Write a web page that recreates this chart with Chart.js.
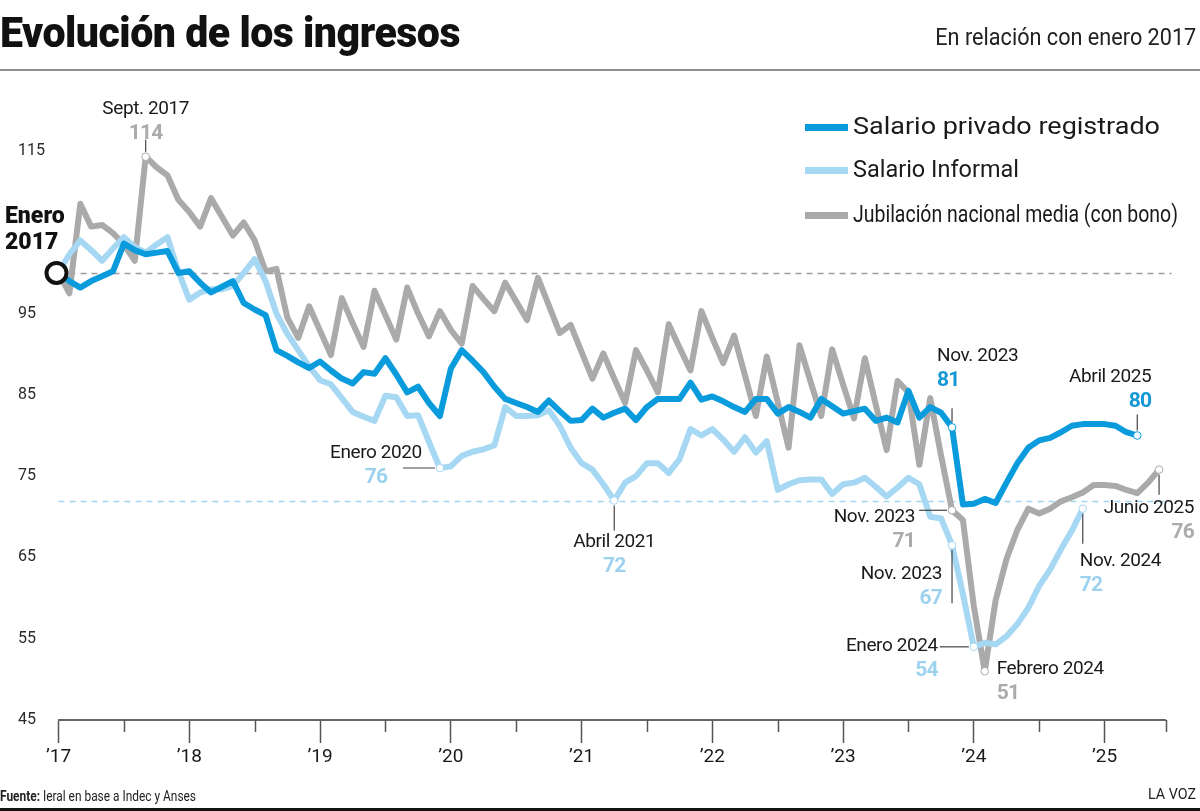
<!DOCTYPE html>
<html lang="es"><head><meta charset="utf-8">
<script src="https://cdn.jsdelivr.net/npm/chart.js@4.4.1/dist/chart.umd.min.js"></script>
<style>
html,body{margin:0;padding:0;background:#fff;}
body{width:1200px;height:811px;position:relative;overflow:hidden;font-family:Roboto,'Noto Sans',sans-serif;color:#161616;}
#cv{position:absolute;left:0;top:0;}
.t{position:absolute;white-space:nowrap;}
#title{left:0;top:11.6px;font-size:42px;line-height:42px;font-weight:900;color:#111;transform-origin:0 50%;letter-spacing:-0.5px;}
#subtitle{top:26px;font-size:23px;line-height:23px;color:#222;transform-origin:100% 50%;}
.rule{position:absolute;left:0;width:1200px;}
.leg{position:absolute;height:24px;}
.leg .sw{position:absolute;left:805px;width:43px;height:7px;top:8.5px;}
.leg .lt{position:absolute;left:853px;top:0;font-size:23px;line-height:24px;color:#1a1a1a;white-space:nowrap;transform-origin:0 50%;}
.ann{position:absolute;white-space:nowrap;}
.ann .l1{font-size:19px;line-height:24px;color:#1a1a1a;letter-spacing:-0.4px;}
.ann .l2{font-size:21px;line-height:24px;font-weight:700;letter-spacing:-0.8px;}
#enero17{left:5px;top:203px;font-size:23px;line-height:26px;font-weight:900;color:#111;}
#fuente{left:0;top:787px;font-size:15px;line-height:18px;color:#222;transform-origin:0 50%;}
#lavoz{top:785px;font-size:14px;line-height:18px;color:#222;transform-origin:100% 50%;}
</style></head>
<body>
<canvas id="cv" width="1200" height="811"></canvas>
<div class="t" id="title">Evolución de los ingresos</div>
<div class="t" id="subtitle">En relación con enero 2017</div>
<div class="rule" style="top:69px;height:2px;background:#8e8e8e;"></div>
<div id="legend"></div>
<div class="t" id="enero17">Enero<br>2017</div>
<div id="anns"></div>
<div class="t" id="fuente"><b>Fuente:</b> Ieral en base a Indec y Anses</div>
<div class="t" id="lavoz">LA VOZ</div>
<div class="rule" style="top:808px;height:3px;background:#111;"></div>
<script>
// ---- Data (monthly, index 0 = enero 2017) ----
const seriesNames = ['Salario privado registrado', 'Salario Informal', 'Jubilación nacional media (con bono)'];
const seriesColors = ['#0a9bdd', '#a6d8f3', '#aaaaaa'];
const valueColors = ['#1598d6', '#9dd2ef', '#ababab'];

const salarioRegistrado = [
  100, 99, 98.2, 99, 99.6, 100.2, 103.6, 102.8, 102.3, 102.5,
  102.7, 100, 100.2, 98.8, 97.6, 98.3, 99, 96.3, 95.5, 94.8,
  90.5, 89.8, 89, 88.3, 89.1, 88, 87, 86.4, 87.8, 87.6,
  89.5, 87.5, 85.3, 86, 84, 82.4, 88.2, 90.5, 89.2, 87.8,
  86, 84.5, 84, 83.5, 82.9, 84.3, 83, 81.8, 81.9, 83.3,
  82.2, 82.8, 83.3, 81.9, 83.5, 84.5, 84.5, 84.5, 86.5, 84.4,
  84.8, 84.2, 83.5, 82.9, 84.5, 84.5, 82.7, 83.5, 82.9, 82.2,
  84.5, 83.6, 82.7, 83.0, 83.3, 81.8, 82.2, 81.6, 85.5, 82.2,
  83.5, 82.8, 81, 71.5, 71.6, 72.2, 71.7, 74.2, 76.6, 78.5,
  79.4, 79.7, 80.4, 81.2, 81.4, 81.4, 81.4, 81.2, 80.4, 80
];
const salarioInformal = [
  100, 102.3, 104, 102.8, 101.5, 103, 104.4, 103.2, 102.5, 103.5,
  104.4, 100.2, 96.7, 97.6, 98, 98, 98.4, 100, 101.7, 99,
  95, 92.5, 90.5, 88.5, 86.8, 86.3, 84.6, 82.9, 82.3, 81.8,
  84.9, 84.7, 82.4, 82.5, 79.2, 76, 76.2, 77.5, 78, 78.3,
  78.8, 83.5, 82.4, 82.4, 82.5, 83.1, 81.2, 78.5, 76.6, 75.8,
  74, 72, 74.2, 75, 76.6, 76.6, 75.4, 77.1, 80.8, 80,
  80.8, 79.5, 78, 79.8, 77.9, 79.3, 73.3, 74, 74.5, 74.6,
  74.6, 72.8, 74, 74.2, 74.8, 73.7, 72.5, 73.6, 74.8, 74,
  70, 69.8, 66.5, 60.5, 54, 54.5, 54.3, 55.3, 56.8, 58.8,
  61.5, 63.5, 66, 68.3, 71
];
const jubilacion = [
  100, 97.5, 108.5, 105.7, 105.9, 104.9, 103.5, 101.5, 114.3, 113,
  112, 109, 107.5, 105.7, 109.2, 106.9, 104.6, 106.2, 104, 100.2,
  100.5, 94.5, 92, 95.9, 92.9, 89.9, 96.9, 93.8, 90.9, 97.8,
  94.8, 91.8, 98.2, 95, 92.2, 95.3, 93, 91.3, 98.4, 96.8,
  95.3, 98.8, 96.5, 94.2, 99.4, 96, 92.6, 93.6, 90.3, 87,
  90.1, 87, 84, 90.5, 88, 85.3, 93.7, 90.8, 88, 95.3,
  92, 88.9, 92.3, 87.4, 82.4, 89.7, 84.1, 78.5, 91.1, 86.7,
  82.4, 90.6, 86.3, 82.1, 89.5, 83.8, 78.2, 86.7, 85.3, 76.4,
  84.6, 77.5, 70.8, 69.6, 59, 51, 59.7, 64.8, 68.4, 71,
  70.4, 71.0, 71.9, 72.4, 73, 73.9, 73.9, 73.8, 73.3, 72.9,
  74.2, 75.8
];
const seriesValues = [salarioRegistrado, salarioInformal, jubilacion];

// ---- Axis ticks ----
const xTickMonths = [0, 12, 24, 36, 48, 60, 72, 84, 96];
const xTickLabels = ['\u201917', '\u201918', '\u201919', '\u201920', '\u201921', '\u201922', '\u201923', '\u201924', '\u201925'];
const xMinorMonths = [6, 18, 30, 42, 54, 66, 78, 90];
const xAxisEnd = 101.6;
const yTicks = [45, 55, 65, 75, 85, 95, 115];
const yMin = 45, yMax = 115;
const refLines = [{v: 100, color: '#9c9c9c'}, {v: 72, color: '#a3d5ef'}];

// ---- Highlighted points: [series, month index, label, value] ----
const annotations = [
  {s: 2, i: 8,   label: 'Sept. 2017',   value: '114', align: 'center', dx: 0,   dy: -61, leader: [0, -5, 0, -17]},
  {s: 1, i: 35,  label: 'Enero 2020',   value: '76',  align: 'right', inner: 'center', dx: -18, dy: -28, leader: [-37, 0, -5, 0]},
  {s: 1, i: 51,  label: 'Abril 2021',   value: '72',  align: 'center', dx: 0,   dy: 28,  leader: [0, 5, 0, 30]},
  {s: 0, i: 82,  label: 'Nov. 2023',    value: '81',  align: 'left',   dx: -15, dy: -84, leader: [0, -5, 0, -19]},
  {s: 0, i: 99,  label: 'Abril 2025',   value: '80',  align: 'right',  dx: 14,  dy: -72, leader: [0, -5, 0, -21]},
  {s: 2, i: 82,  label: 'Nov. 2023',    value: '71',  align: 'right',  dx: -37, dy: -6,  leader: [-33, 0, -5, 0]},
  {s: 1, i: 82,  label: 'Nov. 2023',    value: '67',  align: 'right',  dx: -10, dy: 16,  leader: [0, 5, 0, 58]},
  {s: 1, i: 84,  label: 'Enero 2024',   value: '54',  align: 'right',  dx: -36, dy: -14, leader: [-34, 0, -5, 0]},
  {s: 2, i: 85,  label: 'Febrero 2024', value: '51',  align: 'left',   dx: 12,  dy: -15, leader: null},
  {s: 2, i: 101, label: 'Junio 2025',   value: '76',  align: 'right',  dx: 35,  dy: 25,  leader: [0, 5, 0, 25]},
  {s: 1, i: 94,  label: 'Nov. 2024',    value: '72',  align: 'left',   dx: -3,  dy: 39,  leader: [0, 5, 0, 35]}
];

// ---- legend (HTML) ----
const legendY = [127, 170, 215];
const legendW = [307, 166, 325];
const legEl = document.getElementById('legend');
seriesNames.forEach((n, k) => {
  const d = document.createElement('div');
  d.className = 'leg';
  d.style.top = (legendY[k] - 12) + 'px';
  d.innerHTML = '<div class="sw" style="background:' + seriesColors[k] + '"></div><div class="lt">' + n + '</div>';
  legEl.appendChild(d);
});

function fitW(el, w) {
  const r = el.getBoundingClientRect().width;
  if (r > 0) el.style.transform = 'scaleX(' + (w / r) + ')';
}

const FONT = "Roboto, 'Noto Sans', sans-serif";

const overlay = {
  id: 'overlay',
  beforeDatasetsDraw(chart) {
    const {ctx, chartArea, scales} = chart;
    ctx.save();
    ctx.lineWidth = 1.3;
    ctx.setLineDash([6, 5]);
    refLines.forEach(r => {
      const y = Math.round(scales.y.getPixelForValue(r.v)) + 0.5;
      ctx.strokeStyle = r.color;
      ctx.beginPath();
      ctx.moveTo(chartArea.left, y);
      ctx.lineTo(chartArea.right + 6, y);
      ctx.stroke();
    });
    ctx.restore();
  },
  afterDatasetsDraw(chart) {
    const {ctx, chartArea, scales} = chart;
    ctx.save();
    // minor ticks on x axis
    ctx.strokeStyle = '#555';
    ctx.lineWidth = 1.5;
    xMinorMonths.concat([xAxisEnd]).forEach(m => {
      const x = Math.round(scales.x.getPixelForValue(m)) + 0.5;
      ctx.beginPath();
      ctx.moveTo(x, chartArea.bottom);
      ctx.lineTo(x, chartArea.bottom + 12);
      ctx.stroke();
    });
    // leaders + markers
    annotations.forEach(a => {
      const meta = chart.getDatasetMeta(a.s).data[a.i];
      const px = meta.x, py = meta.y;
      if (a.leader) {
        ctx.strokeStyle = '#444';
        ctx.lineWidth = 1.2;
        ctx.beginPath();
        ctx.moveTo(px + a.leader[0], py + a.leader[1]);
        ctx.lineTo(px + a.leader[2], py + a.leader[3]);
        ctx.stroke();
      }
      ctx.fillStyle = '#fff';
      ctx.strokeStyle = seriesColors[a.s];
      ctx.lineWidth = 1;
      ctx.beginPath();
      ctx.arc(px, py, 3.8, 0, Math.PI * 2);
      ctx.fill();
      ctx.stroke();
    });
    // Enero 2017 origin circle
    const p0 = chart.getDatasetMeta(0).data[0];
    ctx.beginPath();
    ctx.arc(p0.x - 2, p0.y, 10, 0, Math.PI * 2);
    ctx.fillStyle = '#fff';
    ctx.fill();
    ctx.lineWidth = 4;
    ctx.strokeStyle = '#111';
    ctx.stroke();
    ctx.restore();
  },
  afterRender(chart) {
    if (chart._annDone) return;
    chart._annDone = true;
    const host = document.getElementById('anns');
    annotations.forEach(a => {
      const meta = chart.getDatasetMeta(a.s).data[a.i];
      const px = meta.x, py = meta.y;
      const d = document.createElement('div');
      d.className = 'ann';
      d.style.textAlign = a.inner || a.align;
      d.innerHTML = '<div class="l1">' + a.label + '</div><div class="l2" style="color:' + valueColors[a.s] + '">' + a.value + '</div>';
      host.appendChild(d);
      const w = d.getBoundingClientRect().width;
      let left = px + a.dx;
      if (a.align === 'center') left -= w / 2;
      else if (a.align === 'right') left -= w;
      d.style.left = left + 'px';
      d.style.top = (py + a.dy) + 'px';
    });
  }
};

new Chart(document.getElementById('cv'), {
  type: 'line',
  data: {
    datasets: seriesValues.map((vals, k) => ({
      label: seriesNames[k],
      data: vals.map((v, i) => ({x: i, y: v})),
      borderColor: seriesColors[k],
      borderWidth: 6,
      pointRadius: 0,
      tension: 0,
      borderJoinStyle: 'round',
      borderCapStyle: 'round',
      fill: false,
      order: k + 1
    }))
  },
  options: {
    responsive: false,
    animation: false,
    events: [],
    layout: {padding: {left: 18, right: 34.4, top: 151, bottom: 31}},
    plugins: {legend: {display: false}, tooltip: {enabled: false}},
    scales: {
      x: {
        type: 'linear', min: 0, max: xAxisEnd,
        afterBuildTicks: s => { s.ticks = xTickMonths.map(v => ({value: v})); },
        afterFit: s => { s.height = 60; },
        ticks: {
          autoSkip: false, maxRotation: 0, padding: 3, color: '#1a1a1a',
          font: {family: FONT, size: 19},
          callback: v => { const k = xTickMonths.indexOf(v); return k >= 0 ? xTickLabels[k] : ''; }
        },
        grid: {display: true, drawOnChartArea: false, drawTicks: true, tickLength: 23, tickWidth: 1.5, tickColor: '#555'},
        border: {display: true, color: '#666', width: 2}
      },
      y: {
        min: yMin, max: yMax,
        afterBuildTicks: s => { s.ticks = yTicks.map(v => ({value: v})); },
        afterFit: s => { s.width = 40.5; },
        ticks: {crossAlign: 'far', padding: 0, color: '#2a2a2a', font: {family: FONT, size: 16}},
        grid: {display: false},
        border: {display: false}
      }
    }
  },
  plugins: [overlay]
});

// fit header / footer / legend texts
const sub = document.getElementById('subtitle');
fitW(document.getElementById('title'), 460);
sub.style.left = (1196 - sub.getBoundingClientRect().width) + 'px';
fitW(sub, 261);
document.querySelectorAll('.leg .lt').forEach((el, k) => fitW(el, legendW[k]));
fitW(document.getElementById('fuente'), 196);
const lv = document.getElementById('lavoz');
lv.style.left = (1196 - lv.getBoundingClientRect().width) + 'px';
fitW(lv, 48);
</script>
</body></html>
